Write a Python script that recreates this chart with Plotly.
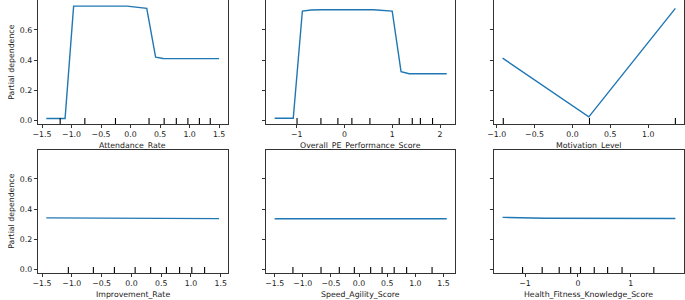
import plotly.graph_objects as go

# ---------------- data ----------------
feature_names = ["Attendance_Rate", "Overall_PE_Performance_Score", "Motivation_Level",
                 "Improvement_Rate", "Speed_Agility_Score", "Health_Fitness_Knowledge_Score"]

attendance_x = [-1.428, -1.110, -0.965, -0.5, -0.061, 0.274, 0.424, 0.552, 1.0, 1.5]
attendance_y = [0.013, 0.013, 0.758, 0.760, 0.758, 0.743, 0.420, 0.411, 0.410, 0.410]

overall_x = [-1.463, -1.073, -0.882, -0.697, -0.492, 0.602, 0.998, 1.183, 1.353, 2.139]
overall_y = [0.015, 0.015, 0.725, 0.732, 0.734, 0.734, 0.725, 0.323, 0.310, 0.310]

motivation_x = [-0.922, 0.216, 1.359]
motivation_y = [0.413, 0.024, 0.743]

improvement_x = [-1.428, -0.3, 0.1, 1.472]
improvement_y = [0.342, 0.341, 0.338, 0.337]

speed_x = [-1.5, 0.0, 1.558]
speed_y = [0.336, 0.336, 0.336]

health_x = [-1.424, -0.62, 1.845]
health_y = [0.345, 0.339, 0.338]

deciles_attendance = [-1.193, -0.775, -0.256, 0.313, 0.569, 0.775, 0.971, 1.166, 1.350]
deciles_overall = [-0.994, -0.494, -0.139, 0.154, 0.531, 1.145, 1.418, 1.588, 1.842]
deciles_motivation = [-0.913, 0.225, 1.359]
deciles_improvement = [-1.058, -0.638, -0.285, 0.063, 0.323, 0.588, 0.809, 1.014, 1.229]
deciles_speed = [-1.175, -0.676, -0.351, -0.084, 0.206, 0.409, 0.624, 0.845, 1.297]
deciles_health = [-1.046, -0.675, -0.353, -0.136, 0.05, 0.31, 0.563, 0.836, 1.437]

xticks_half = [-1.5, -1.0, -0.5, 0.0, 0.5, 1.0, 1.5]
xticks_half_text = ["\u22121.5", "\u22121.0", "\u22120.5", "0.0", "0.5", "1.0", "1.5"]
xticks_overall = [-1, 0, 1, 2]
xticks_overall_text = ["\u22121", "0", "1", "2"]
xticks_motivation = [-1.0, -0.5, 0.0, 0.5, 1.0]
xticks_motivation_text = ["\u22121.0", "\u22120.5", "0.0", "0.5", "1.0"]
xticks_health = [-1, 0, 1]
xticks_health_text = ["\u22121", "0", "1"]
yticks = [0.0, 0.2, 0.4, 0.6]
yticks_text = ["0.0", "0.2", "0.4", "0.6"]

# ---------------- layout helpers ----------------
W, H = 685, 300
col_px = [(31, 223), (261.7, 453), (492, 684)]
row_px = [(0.5, 124.5), (150, 274)]
xranges = [[-1.574, 1.646], [-1.643, 2.32], [-1.036, 1.473],
           [-1.573, 1.617], [-1.653, 1.711], [-1.587, 2.008]]
yrange = [-0.024, 0.795]

curves = [(attendance_x, attendance_y), (overall_x, overall_y), (motivation_x, motivation_y),
          (improvement_x, improvement_y), (speed_x, speed_y), (health_x, health_y)]
deciles = [deciles_attendance, deciles_overall, deciles_motivation,
           deciles_improvement, deciles_speed, deciles_health]
xtick_sets = [(xticks_half, xticks_half_text), (xticks_overall, xticks_overall_text),
              (xticks_motivation, xticks_motivation_text), (xticks_half, xticks_half_text),
              (xticks_half, xticks_half_text), (xticks_health, xticks_health_text)]

FONT = "DejaVu Sans"
TXT = "#1a1a1a"
FS = 7.8

fig = go.Figure()
layout = dict(width=W, height=H, margin=dict(l=0, r=0, t=0, b=0),
              paper_bgcolor="white", plot_bgcolor="white", showlegend=False,
              font=dict(family=FONT, size=FS, color=TXT))
shapes = []
annotations = []

for i in range(6):
    r, c = divmod(i, 3)
    sfx = "" if i == 0 else str(i + 1)
    xa, ya = "x" + sfx, "y" + sfx
    cx0, cx1 = col_px[c]
    ry0, ry1 = row_px[r]
    fig.add_trace(go.Scatter(x=curves[i][0], y=curves[i][1], mode="lines",
                             line=dict(color="#1f77b4", width=1.4),
                             xaxis=xa, yaxis=ya, hoverinfo="skip"))
    axis_common = dict(showline=True, mirror=True, linecolor="#333333", linewidth=0.9,
                       showgrid=False, zeroline=False, ticks="outside", ticklen=3,
                       tickwidth=0.8, tickcolor="#333333",
                       tickfont=dict(family=FONT, size=FS, color=TXT))
    layout["xaxis" + sfx] = dict(axis_common, domain=[cx0 / W, cx1 / W], range=xranges[i],
                                 anchor=ya, tickmode="array", tickvals=xtick_sets[i][0],
                                 ticktext=xtick_sets[i][1])
    layout["yaxis" + sfx] = dict(axis_common, domain=[1 - ry1 / H, 1 - ry0 / H], range=yrange,
                                 anchor=xa, tickmode="array", tickvals=yticks,
                                 ticktext=yticks_text, showticklabels=(c == 0))
    for d in deciles[i]:
        shapes.append(dict(type="line", xref=xa, yref=ya + " domain", x0=d, x1=d, y0=0, y1=0.05,
                           line=dict(color="black", width=1.1)))
    annotations.append(dict(text=feature_names[i], xref=xa + " domain", yref="paper",
                            x=0.5, y=1 - (ry1 + 21.2) / H, xanchor="center", yanchor="middle",
                            showarrow=False, font=dict(family=FONT, size=FS, color=TXT)))
    if c == 0:
        annotations.append(dict(text="Partial dependence", xref="paper", yref="paper",
                                x=4.5 / W, y=1 - (ry0 + ry1) / 2 / H, textangle=-90,
                                xanchor="center", yanchor="middle", showarrow=False,
                                font=dict(family=FONT, size=FS, color=TXT)))

layout["shapes"] = shapes
layout["annotations"] = annotations
fig.update_layout(**layout)
fig.write_html("out.html", config={"displayModeBar": False},
               post_script="document.body.style.margin='0';document.body.style.padding='0';")
